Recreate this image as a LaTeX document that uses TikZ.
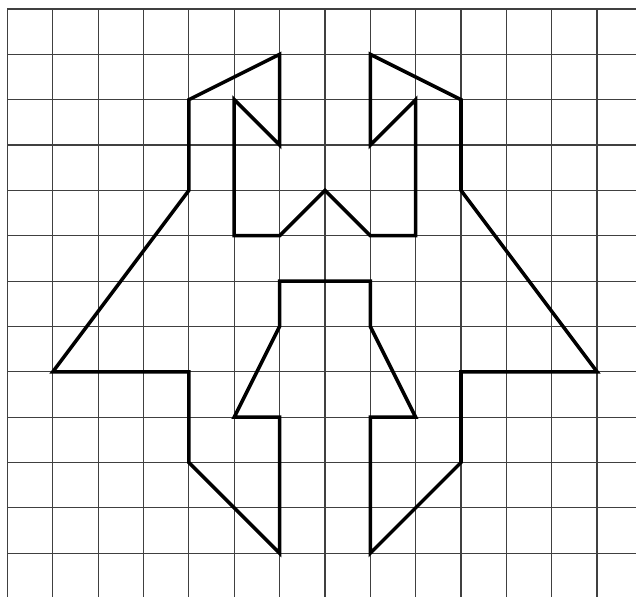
\documentclass[tikz,border=0pt]{standalone}
\begin{document}
\begin{tikzpicture}[x=1cm,y=-1cm,
  gridline/.style={line width=0.7pt,draw=black!75},
  figline/.style={line width=2.2pt,draw=black,line join=miter}]
\useasboundingbox (-0.165,-0.198) rectangle (13.859,12.966);
\fill[white] (-0.165,-0.198) rectangle (13.859,12.966);
\foreach \i in {0,...,13} \draw[gridline] (\i,0) -- (\i,12.966);
\foreach \j in {0,...,12} \draw[gridline] (0,\j) -- (13.859,\j);
\draw[figline] (4,2) -- (6,1) -- (6,3) -- (5,2) -- (5,5) -- (6,5) -- (7,4) -- (8,5) -- (9,5) -- (9,2) -- (8,3) -- (8,1) -- (10,2) -- (10,4) -- (13,8) -- (10,8) -- (10,10) -- (8,12) -- (8,9) -- (9,9) -- (8,7) -- (8,6) -- (6,6) -- (6,7) -- (5,9) -- (6,9) -- (6,12) -- (4,10) -- (4,8) -- (1,8) -- (4,4) -- cycle;
\end{tikzpicture}
\end{document}
